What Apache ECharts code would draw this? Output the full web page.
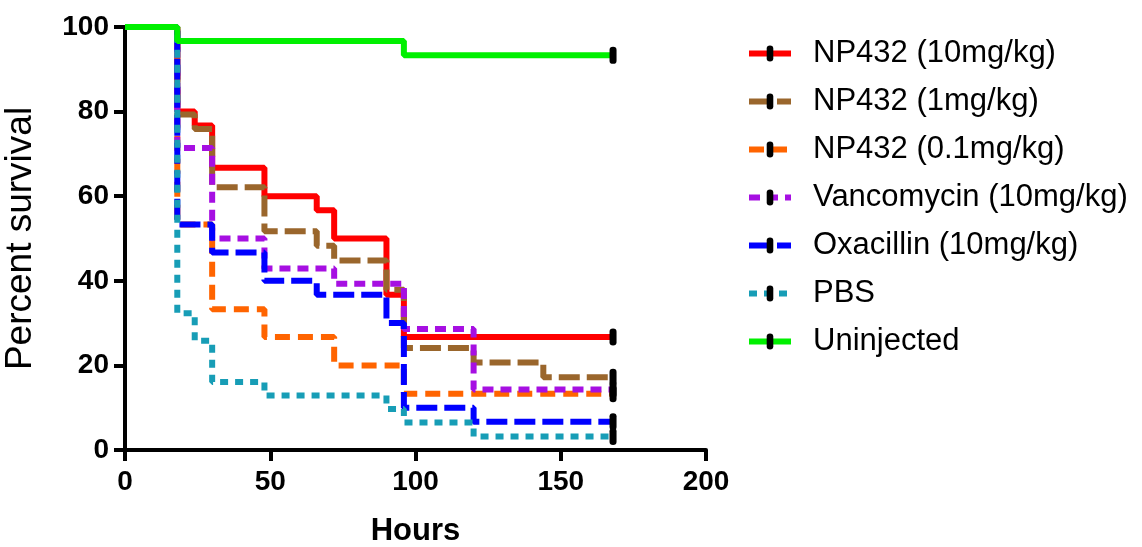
<!DOCTYPE html>
<html>
<head>
<meta charset="utf-8">
<script src="https://cdn.jsdelivr.net/npm/echarts@6/dist/echarts.min.js"></script>
<style>
  html, body { margin: 0; padding: 0; background: #ffffff; }
  #chart { width: 1142px; height: 547px; }
</style>
</head>
<body>
<div id="chart"></div>
<script>
// ---- Data (Kaplan-Meier steps: [hours, percent survival]) ----
const seriesNames = [
  'NP432 (10mg/kg)', 'NP432 (1mg/kg)', 'NP432 (0.1mg/kg)',
  'Vancomycin (10mg/kg)', 'Oxacillin (10mg/kg)', 'PBS', 'Uninjected'
];
const np432_10 = [[0,100],[18,80],[24,76.7],[30,66.7],[48,60],[66,56.7],[72,50],[90,36.7],[96,26.7],[168,26.7]];
const np432_1 = [[0,100],[18,79.3],[24,75.9],[30,62.1],[48,51.7],[66,48.3],[72,44.8],[90,37.9],[96,24.1],[120,20.7],[144,17.2],[168,17.2]];
const np432_01 = [[0,100],[18,53.3],[30,33.3],[48,26.7],[72,20],[96,13.3],[168,13.3]];
const vancomycin = [[0,100],[18,71.4],[30,50],[48,42.9],[72,39.3],[96,28.6],[120,14.3],[168,14.3]];
const oxacillin = [[0,100],[18,53.3],[30,46.7],[48,40],[66,36.7],[90,30],[96,10],[120,6.7],[168,6.7]];
const pbs = [[0,100],[18,32.3],[24,25.8],[30,16.1],[48,12.9],[90,9.7],[96,6.5],[120,3.2],[168,3.2]];
const uninjected = [[0,100],[18,96.7],[96,93.3],[168,93.3]];
const xTicks = [0, 50, 100, 150, 200];
const yTicks = [0, 20, 40, 60, 80, 100];

const allData = [np432_10, np432_1, np432_01, vancomycin, oxacillin, pbs, uninjected];
const colors = ['#ff0000', '#9a662c', '#ff6400', '#a60fe2', '#0000ff', '#179db6', '#00f000'];
const dashes = ['solid', [21, 7], [15, 8], [11, 7], [21, 7], [8, 7], 'solid'];

// censor tick: narrow rounded bar inside a 16x16 box
const censor = 'path://M0,0 M4.7,3 Q4.7,0 8,0 Q11.3,0 11.3,3 L11.3,13 Q11.3,16 8,16 Q4.7,16 4.7,13 Z M16,16';

const sans = '"Liberation Sans", Arial, sans-serif';

const chart = echarts.init(document.getElementById('chart'), null, { renderer: 'canvas' });

const series = allData.map((d, i) => ({
  name: seriesNames[i],
  type: 'line',
  step: 'end',
  symbol: censor,
  symbolSize: 17,
  showSymbol: true,
  itemStyle: { color: '#000000' },
  lineStyle: { color: colors[i], width: 6, type: dashes[i], cap: 'butt' },
  emphasis: { disabled: true },
  animation: false,
  data: d.map((p, j) => j === d.length - 1
    ? { value: p }
    : { value: p, symbol: 'none' })
}));

chart.setOption({
  animation: false,
  backgroundColor: '#ffffff',
  grid: { left: 125, top: 27, width: 581, height: 423, containLabel: false, outerBoundsMode: 'none' },
  legend: {
    orient: 'vertical',
    left: 741,
    top: 33,
    padding: 5,
    itemWidth: 42,
    itemHeight: 20,
    itemGap: 17,
    data: seriesNames,
    lineStyle: { width: 6 },
    textStyle: { fontFamily: sans, fontSize: 31, color: '#000', padding: [0, 0, 0, 17] },
    selectedMode: false
  },
  xAxis: {
    type: 'value',
    min: 0, max: 200, interval: 50,
    name: 'Hours',
    nameLocation: 'middle',
    nameGap: 66,
    nameTextStyle: { fontFamily: sans, fontWeight: 'bold', fontSize: 31, color: '#000' },
    axisLine: { show: true, lineStyle: { color: '#000', width: 4 } },
    axisTick: { show: true, length: 11, lineStyle: { color: '#000', width: 4 } },
    axisLabel: { fontFamily: sans, fontWeight: 'bold', fontSize: 28, color: '#000', margin: 18,
      formatter: v => xTicks.includes(v) ? String(v) : '' },
    splitLine: { show: false }
  },
  yAxis: {
    type: 'value',
    min: 0, max: 100, interval: 20,
    name: 'Percent survival',
    nameLocation: 'middle',
    nameGap: 86,
    nameRotate: 90,
    nameTextStyle: { fontFamily: sans, fontSize: 37, color: '#000' },
    axisLine: { show: true, lineStyle: { color: '#000', width: 4 } },
    axisTick: { show: true, length: 11, lineStyle: { color: '#000', width: 4 } },
    axisLabel: { fontFamily: sans, fontWeight: 'bold', fontSize: 28, color: '#000', margin: 16,
      formatter: v => yTicks.includes(v) ? String(v) : '' },
    splitLine: { show: false }
  },
  series: series
});
</script>
</body>
</html>
